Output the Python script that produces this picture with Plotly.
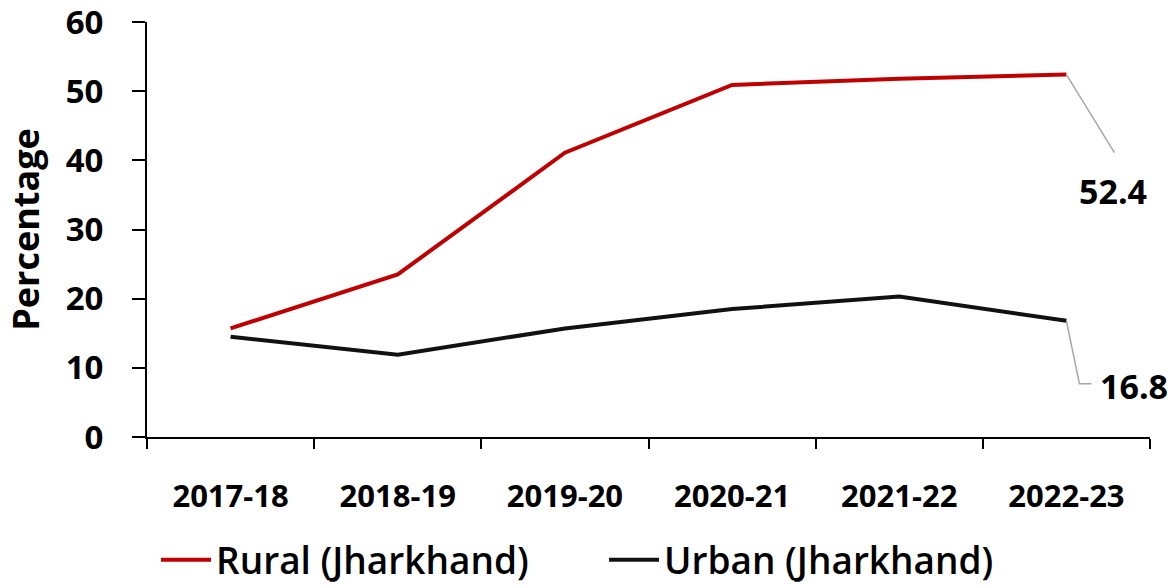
import plotly.graph_objects as go

years = ["2017-18", "2018-19", "2019-20", "2020-21", "2021-22", "2022-23"]
rural = [15.7, 23.5, 41.1, 50.9, 51.8, 52.4]
urban = [14.5, 11.9, 15.7, 18.5, 20.3, 16.8]
y_ticks = [0, 10, 20, 30, 40, 50, 60]

FONT = "Open Sans"

fig = go.Figure()
fig.add_trace(go.Scatter(x=years, y=rural, mode="lines", name="Rural (Jharkhand)",
                         line=dict(color="#C00000", width=4)))
fig.add_trace(go.Scatter(x=years, y=urban, mode="lines", name="Urban (Jharkhand)",
                         line=dict(color="#111111", width=4)))

# leader lines (pixel-sized, anchored at last data points)
fig.add_shape(type="line", xref="x", yref="y", xsizemode="pixel", ysizemode="pixel",
              xanchor=years[-1], yanchor=rural[-1], x0=0, y0=0, x1=48, y1=-78,
              line=dict(color="#A6A6A6", width=1.5))
fig.add_shape(type="path", xref="x", yref="y", xsizemode="pixel", ysizemode="pixel",
              xanchor=years[-1], yanchor=urban[-1], path="M0,0 L13,-63 L25,-63",
              line=dict(color="#A6A6A6", width=1.5))

fig.add_annotation(x=years[-1], y=rural[-1], text=f"<b>{rural[-1]}</b>", showarrow=False,
                   xshift=47, yshift=-116, font=dict(family=FONT, size=34, color="black"))
fig.add_annotation(x=years[-1], y=urban[-1], text=f"<b>{urban[-1]}</b>", showarrow=False,
                   xshift=68, yshift=-65, font=dict(family=FONT, size=34, color="black"))

fig.update_layout(
    width=1175, height=588,
    margin=dict(l=147, r=25, t=22, b=151, autoexpand=False),
    plot_bgcolor="white", paper_bgcolor="white",
    font=dict(family=FONT, color="black"),
    showlegend=True,
    legend=dict(orientation="h", x=0.009, xanchor="left", y=-0.297, yanchor="middle",
                font=dict(family=FONT, size=37, color="black", weight=600),
                entrywidth=383, itemwidth=50),
)
fig.update_xaxes(type="category", range=[-0.5, 5.5], automargin=False,
                 showline=True, linecolor="black", linewidth=2,
                 ticks="outside", tickson="boundaries", ticklen=10, tickwidth=2, tickcolor="black",
                 showgrid=False, ticklabelstandoff=31,
                 tickfont=dict(family=FONT, size=31, color="black", weight="bold"))
fig.update_yaxes(range=[0, 60], tickvals=y_ticks, automargin=False,
                 showline=True, linecolor="black", linewidth=2,
                 ticks="outside", ticklen=13, tickwidth=2, tickcolor="black",
                 showgrid=False, zeroline=False, ticklabelstandoff=22,
                 ticklabeloverflow="allow",
                 tickfont=dict(family=FONT, size=33, color="black", weight="bold"),
                 title=dict(text="<b>Percentage</b>", standoff=15,
                            font=dict(family=FONT, size=36, color="black")))

fig.write_html("out.html", config={"displayModeBar": False},
               post_script="document.body.style.margin='0';")
